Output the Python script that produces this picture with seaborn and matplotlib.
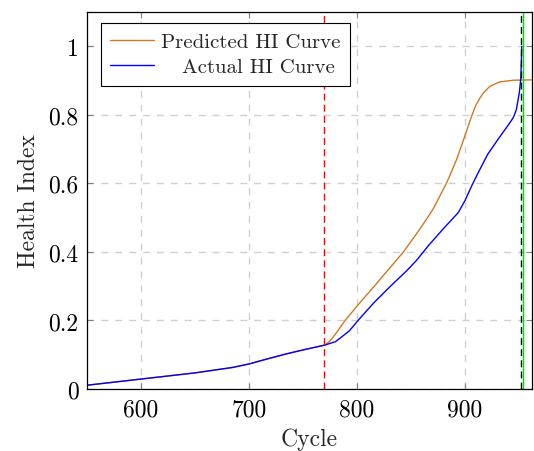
import matplotlib
matplotlib.use("Agg")
import matplotlib.pyplot as plt
import seaborn as sns
import pandas as pd

# Actual HI curve
actual_cycle = [550, 600, 650, 685, 700, 717, 734, 750, 760, 770, 780, 785, 793, 801, 808, 816,
                830, 846, 855, 866, 876.9, 885, 893.8, 900, 906.2, 912, 921, 932, 940,
                944.7, 947.5, 950.3, 951.6, 952.2, 952.5]
actual_hi = [0.011, 0.029, 0.047, 0.063, 0.073, 0.088, 0.102, 0.114, 0.121, 0.128, 0.138, 0.150,
             0.170, 0.200, 0.225, 0.253, 0.297, 0.345, 0.375, 0.418, 0.457, 0.485, 0.515, 0.550,
             0.593, 0.630, 0.685, 0.735, 0.770, 0.792, 0.815, 0.865, 0.905, 0.960, 1.000]

# Predicted HI curve
pred_cycle = [550, 600, 650, 685, 700, 734, 750, 770, 775, 780, 789, 800, 816, 830, 843, 858.5,
              870.8, 883.2, 892.4, 900, 906.2, 910, 913.8, 917, 923, 932, 945, 962]
pred_hi = [0.011, 0.029, 0.047, 0.063, 0.073, 0.102, 0.114, 0.128, 0.140, 0.160, 0.200, 0.242,
           0.300, 0.352, 0.400, 0.468, 0.527, 0.603, 0.671, 0.740, 0.797, 0.828, 0.849, 0.864,
           0.883, 0.896, 0.901, 0.902]

red_line_x = 769
black_line_x = 951.7
green_line_x = 953.8

x_ticks = [600, 700, 800, 900]
y_ticks = [0, 0.2, 0.4, 0.6, 0.8, 1]
y_tick_labels = ["0", "0.2", "0.4", "0.6", "0.8", "1"]

sns.set_theme(style="white")
plt.rcParams['font.family'] = ['cmr10', 'DejaVu Serif']
plt.rcParams['mathtext.fontset'] = 'cm'
plt.rcParams['axes.formatter.use_mathtext'] = True

fig = plt.figure(figsize=(5.34, 4.52), dpi=100)
ax = fig.add_axes([87/534, 1-390/452, (532-87)/534, (390-13)/452])

df_pred = pd.DataFrame({"Cycle": pred_cycle, "HI": pred_hi})
df_act = pd.DataFrame({"Cycle": actual_cycle, "HI": actual_hi})

sns.lineplot(data=df_pred, x="Cycle", y="HI", ax=ax, color="#D2791F", lw=1.0,
             label="Predicted HI Curve", sort=False, estimator=None)
sns.lineplot(data=df_act, x="Cycle", y="HI", ax=ax, color="#0000FF", lw=1.0,
             label="   Actual HI Curve", sort=False, estimator=None)

ax.axvline(red_line_x, color="red", lw=1.0, ls=(0, (5, 3)))
ax.axvline(black_line_x, color="black", lw=1.0, ls=(0, (5, 3)))
ax.axvline(green_line_x, color="#00DD00", lw=1.0)

ax.set_xlim(550, 962)
ax.set_ylim(0, 1.1)
ax.set_xticks(x_ticks)
ax.set_xticklabels([str(t) for t in x_ticks])
ax.set_yticks(y_ticks)
ax.set_yticklabels(y_tick_labels)

ax.grid(True, color="#d0d0d0", ls=(0, (5, 5)), lw=1.0)
ax.set_axisbelow(True)
for s in ax.spines.values():
    s.set_color("black")
    s.set_linewidth(0.9)

ax.tick_params(axis="both", direction="in", length=4, width=0.8, color="#808080",
               labelsize=17, top=True, right=True, bottom=True, left=True)
ax.tick_params(axis="x", pad=7)
ax.tick_params(axis="y", pad=6)
for lbl in ax.get_xticklabels() + ax.get_yticklabels():
    lbl.set_color("black")

ax.set_xlabel("Cycle", fontsize=17, labelpad=5)
ax.set_ylabel("Health Index", fontsize=17, labelpad=6)

leg = ax.legend(loc="upper left", bbox_to_anchor=(0.0315, 0.971), borderaxespad=0,
                fontsize=15.0, frameon=True, fancybox=False, edgecolor="black",
                framealpha=1, handlelength=2.1, handletextpad=0.35, borderpad=0.45,
                labelspacing=0.33)
leg.get_frame().set_linewidth(0.8)

fig.savefig("out.png", dpi=100)
